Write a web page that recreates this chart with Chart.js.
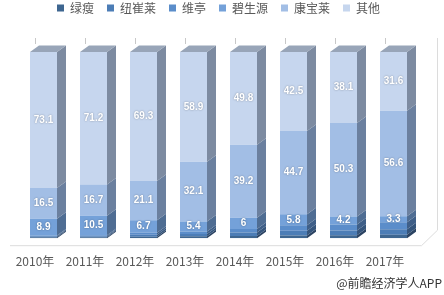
<!DOCTYPE html>
<html>
<head>
<meta charset="utf-8">
<script src="https://cdn.jsdelivr.net/npm/chart.js@4.4.0/dist/chart.umd.min.js"></script>
<style>
  html, body { margin: 0; padding: 0; background: #fff; }
  #wrap { position: relative; width: 444px; height: 295px; }
  #credit {
    position: absolute; right: 2px; top: 274px;
    font: 12px "Noto Sans CJK SC", sans-serif; color: #333;
  }
</style>
</head>
<body>
<div id="wrap">
  <canvas id="shareCanvas" width="444" height="295"></canvas>
  <div id="credit">@前瞻经济学人APP</div>
</div>
<script>
// market share by brand (%), stacked bottom -> top
const years = ['2010年', '2011年', '2012年', '2013年', '2014年', '2015年', '2016年', '2017年'];
const lvShou = [0.5, 0.5, 0.8, 1.0, 1.2, 1.5, 1.6, 1.8];
const niuCuiLai = [0.5, 0.6, 1.0, 1.2, 1.8, 2.5, 2.6, 3.0];
const weiTing = [0.5, 0.5, 1.1, 1.4, 2.0, 3.0, 3.2, 3.7];
const biShengYuan = [8.9, 10.5, 6.7, 5.4, 6, 5.8, 4.2, 3.3];
const kangBaoLai = [16.5, 16.7, 21.1, 32.1, 39.2, 44.7, 50.3, 56.6];
const qiTa = [73.1, 71.2, 69.3, 58.9, 49.8, 42.5, 38.1, 31.6];

const frontColors = ['#3e6690', '#4c7db6', '#5b8dca', '#74a1d9', '#a2bee5', '#c6d6ee'];
const sideColors = ['#2b4362', '#35557c', '#3f5f88', '#4f6d93', '#6b809f', '#7d8ba1'];
const capColor = '#98a5b8';
const DX = 9, DY = 6.5;

// side faces, top cap, labels and floor lines for the fake 3D look
const bar3d = {
  id: 'bar3d',
  beforeDatasetsDraw(chart) {
    const ctx = chart.ctx;
    const area = chart.chartArea;
    ctx.save();
    ctx.strokeStyle = '#dcdcdc';
    ctx.lineWidth = 1;
    ctx.beginPath();
    ctx.moveTo(10, area.bottom + 7.5);
    ctx.lineTo(area.right + 3, area.bottom + 7.5);
    ctx.lineTo(437.5, area.bottom - 8);
    ctx.lineTo(437.5, 38);
    ctx.stroke();
    // little stubs on the back wall
    const xs = chart.scales.x;
    ctx.strokeStyle = '#c8c8c8';
    years.forEach((_, i) => {
      const px = Math.round(xs.getPixelForValue(i) - 8.5) + 0.5;
      ctx.beginPath();
      ctx.moveTo(px, 38);
      ctx.lineTo(px, 44);
      ctx.stroke();
    });
    ctx.restore();
  },
  afterDatasetsDraw(chart) {
    const ctx = chart.ctx;
    ctx.save();
    const n = chart.data.datasets.length;
    for (let d = 0; d < n; d++) {
      const meta = chart.getDatasetMeta(d);
      meta.data.forEach((el) => {
        const right = el.x + el.width / 2;
        const left = el.x - el.width / 2;
        const top = Math.min(el.y, el.base);
        const bottom = Math.max(el.y, el.base);
        ctx.fillStyle = sideColors[d];
        ctx.beginPath();
        ctx.moveTo(right, top);
        ctx.lineTo(right + DX, top - DY);
        ctx.lineTo(right + DX, bottom - DY);
        ctx.lineTo(right, bottom);
        ctx.closePath();
        ctx.fill();
        if (d === n - 1) {
          ctx.fillStyle = capColor;
          ctx.beginPath();
          ctx.moveTo(left, top);
          ctx.lineTo(left + DX, top - DY);
          ctx.lineTo(right + DX, top - DY);
          ctx.lineTo(right, top);
          ctx.closePath();
          ctx.fill();
        }
      });
    }
    // value labels on the three upper series
    ctx.font = 'bold 10px "Liberation Sans", sans-serif';
    ctx.textAlign = 'center';
    ctx.textBaseline = 'middle';
    ctx.fillStyle = '#ffffff';
    ctx.shadowColor = 'rgba(0,0,0,0.35)';
    ctx.shadowBlur = 2;
    for (let d = 3; d < n; d++) {
      const meta = chart.getDatasetMeta(d);
      const vals = chart.data.datasets[d].data;
      meta.data.forEach((el, i) => {
        ctx.fillText(String(vals[i]), el.x, (el.y + el.base) / 2);
      });
    }
    ctx.restore();
  },
};

const seriesNames = ['绿瘦', '纽崔莱', '维亭', '碧生源', '康宝莱', '其他'];
const seriesData = [lvShou, niuCuiLai, weiTing, biShengYuan, kangBaoLai, qiTa];

new Chart(document.getElementById('shareCanvas'), {
  type: 'bar',
  data: {
    labels: years,
    datasets: seriesNames.map((name, i) => ({
      label: name,
      data: seriesData[i],
      backgroundColor: frontColors[i],
      borderWidth: 0,
      barPercentage: 0.54,
      categoryPercentage: 1,
    })),
  },
  options: {
    responsive: false,
    animation: false,
    layout: { padding: { top: -11, left: 18.5, right: 25.5, bottom: 10.4 } },
    plugins: {
      tooltip: { enabled: false },
      legend: {
        display: true,
        position: 'top',
        labels: {
          boxWidth: 7,
          boxHeight: 7,
          padding: 13,
          color: '#595959',
          font: { size: 12, family: '"Noto Sans CJK SC", sans-serif' },
        },
      },
    },
    scales: {
      x: {
        stacked: true,
        grid: { display: false, drawTicks: false },
        border: { display: false },
        ticks: {
          color: '#595959',
          padding: 16,
          labelOffset: -8.5,
          font: { size: 12, family: '"Noto Sans CJK SC", sans-serif' },
        },
      },
      y: {
        stacked: true,
        display: false,
        min: 0,
        max: 115,
      },
    },
  },
  plugins: [bar3d],
});
</script>
</body>
</html>
